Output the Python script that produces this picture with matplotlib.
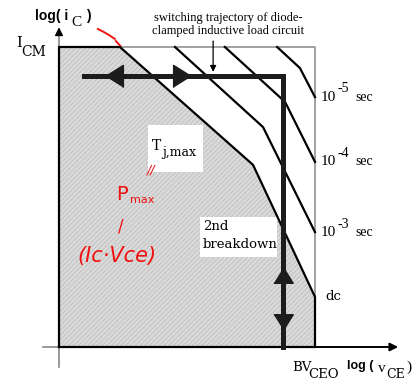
import matplotlib.pyplot as plt
import matplotlib.patches as mpatches

# Safe operating area of a BJT, drawn on log-log axes normalised so that
# BV_CEO -> 1 on the v_CE axis and I_CM -> 1 on the i_C axis.
dc_v = [0.0, 0.0, 0.238, 0.758, 1.0, 1.0]
dc_i = [0.0, 1.0, 1.0, 0.607, 0.167, 0.0]

pulse_labels = ["-5", "-4", "-3"]
pulse_v = [
    [0.852, 0.941, 1.0],
    [0.648, 0.883, 1.0],
    [0.453, 0.797, 1.0],
]
pulse_i = [
    [1.0, 0.93, 0.833],
    [1.0, 0.817, 0.617],
    [1.0, 0.733, 0.383],
]

# switching trajectory of the diode-clamped inductive load
traj_v = [0.098, 0.875, 0.875]
traj_i = [0.903, 0.903, 0.0]

SERIF = "Liberation Serif"
SLAB = "DejaVu Serif"
SANS = ["Liberation Sans Narrow", "Liberation Sans"]
RED = "#f01010"

fig = plt.figure(figsize=(4.13, 3.85), dpi=100)
ax = fig.add_axes([59 / 413, 38 / 385, 256 / 413, 300 / 385])
ax.set_xlim(0, 1)
ax.set_ylim(0, 1)
ax.axis("off")

plt.rcParams["hatch.linewidth"] = 0.7

# shaded SOA (dc boundary)
ax.add_patch(mpatches.Polygon(list(zip(dc_v, dc_i)), closed=True,
                              facecolor="#dadada", edgecolor="#c2c2c2",
                              hatch="///////", linewidth=0, zorder=1))
ax.plot(dc_v + [dc_v[0]], dc_i + [dc_i[0]], color="black", lw=1.6,
        zorder=4, clip_on=False)

# light grey outer box
ax.plot([dc_v[2], 1.0, 1.0], [1.0, 1.0, dc_i[4]], color="#9a9a9a",
        lw=1.3, zorder=2, clip_on=False)

# axes extensions and arrows
ax.plot([0, 0], [-0.067, 0], color="#888888", lw=1.2, clip_on=False)
ax.plot([-0.0625, 0], [0, 0], color="#888888", lw=1.2, clip_on=False)
ax.plot([0, 0], [1.0, 1.04], color="#888888", lw=1.2, clip_on=False)
ax.annotate("", xy=(0, 1.075), xytext=(0, 1.035),
            arrowprops=dict(arrowstyle="-|>", color="black", lw=1.0,
                            mutation_scale=12), annotation_clip=False)
ax.annotate("", xy=(1.325, 0), xytext=(1.0, 0),
            arrowprops=dict(arrowstyle="-|>", color="black", lw=1.4,
                            mutation_scale=12, shrinkA=0, shrinkB=0),
            annotation_clip=False)

# pulsed SOA limits
for v, i, lab in zip(pulse_v, pulse_i, pulse_labels):
    ax.plot(v, i, color="black", lw=1.6, zorder=4, clip_on=False)
    ax.text(1.021, i[-1], "10", family=SERIF, fontsize=11, va="center",
            ha="left")
    ax.text(1.086, i[-1] + 0.027, lab, family=SERIF, fontsize=10,
            va="center", ha="left")
    ax.text(1.158, i[-1], "sec", family=SERIF, fontsize=10, va="center",
            ha="left")
ax.text(1.039, dc_i[4], "dc", family=SLAB, fontsize=9.5, va="center",
        ha="left")

# label boxes
ax.add_patch(mpatches.Rectangle((0.348, 0.583), 0.2145, 0.157,
                                facecolor="white", edgecolor="none",
                                zorder=2))
ax.text(0.381, 0.669, "T", family=SLAB, fontsize=10, ha="center",
        va="center", zorder=3)
ax.text(0.404, 0.647, "j,max", family=SLAB, fontsize=9, ha="left",
        va="center", zorder=3)

ax.add_patch(mpatches.Rectangle((0.551, 0.3), 0.301, 0.133,
                                facecolor="white", edgecolor="none",
                                zorder=2))
ax.text(0.5625, 0.403, "2nd", family=SLAB, fontsize=9.5, ha="left",
        va="center", zorder=3)
ax.text(0.5625, 0.343, "breakdown", family=SLAB, fontsize=9.5, ha="left",
        va="center", zorder=3)

# trajectory with direction arrows
ax.plot(traj_v, traj_i, color="#1c1c1c", lw=3.6, zorder=5,
        solid_joinstyle="miter", clip_on=False)
head_l = [(-0.8, 0), (0.8, 1), (0.8, -1)]
head_r = [(0.8, 0), (-0.8, 1), (-0.8, -1)]
head_u = [(0, 0.8), (1, -0.8), (-1, -0.8)]
head_d = [(0, -0.8), (1, 0.8), (-1, 0.8)]
ax.plot(0.215, traj_i[0], marker=head_l, ms=16, color="#1c1c1c", zorder=6)
ax.plot(0.48, traj_i[0], marker=head_r, ms=16, color="#1c1c1c", zorder=6)
ax.plot(traj_v[-1], 0.24, marker=head_u, ms=14, color="#1c1c1c", zorder=6)
ax.plot(traj_v[-1], 0.083, marker=head_d, ms=14, color="#1c1c1c", zorder=6)

ax.text(0.66, 1.075, "switching trajectory of diode-\nclamped inductive load circuit",
        family=SERIF, fontsize=9, ha="center", va="center", linespacing=1.15)
ax.annotate("", xy=(0.602, 0.917), xytext=(0.602, 1.02),
            arrowprops=dict(arrowstyle="-|>", color="black", lw=0.9,
                            mutation_scale=9, shrinkA=0, shrinkB=0),
            annotation_clip=False, zorder=7)

# axis labels
ax.text(-0.094, 1.103, "log( i", family=SANS, weight="bold", fontsize=10,
        ha="left", va="center")
ax.text(0.068, 1.083, "C", family=SERIF, fontsize=11, ha="center",
        va="center")
ax.text(0.113, 1.103, ")", family=SANS, weight="bold", fontsize=10,
        ha="center", va="center")
ax.text(-0.154, 1.012, "I", family=SLAB, fontsize=10.5, ha="center",
        va="center")
ax.text(-0.1, 0.983, "CM", family=SLAB, fontsize=10, ha="center",
        va="center")

ax.text(0.949, -0.067, "BV", family=SLAB, fontsize=9.5, ha="center",
        va="center")
ax.text(1.035, -0.093, "CEO", family=SLAB, fontsize=9.5, ha="center",
        va="center")
ax.text(1.125, -0.063, "log (", family=SANS, weight="bold", fontsize=9,
        ha="left", va="center")
ax.text(1.262, -0.07, "v", family=SERIF, fontsize=11, ha="center",
        va="center")
ax.text(1.313, -0.093, "CE", family=SLAB, fontsize=9, ha="center",
        va="center")
ax.text(1.368, -0.067, ")", family=SERIF, fontsize=11, ha="center",
        va="center")

# red hand notes
ax.plot([0.152, 0.175, 0.195, 0.218], [1.06, 1.05, 1.04, 1.027],
        color=RED, lw=1.4, clip_on=False)
ax.plot([0.222, 0.24], [1.02, 1.003], color=RED, lw=1.4, clip_on=False)
ax.text(0.359, 0.59, "//", color=RED, fontsize=9, ha="center",
        va="center", style="italic", zorder=3)
ax.text(0.246, 0.51, "P", color=RED, fontsize=14, ha="center",
        va="center")
ax.text(0.277, 0.49, "max", color=RED, fontsize=8, ha="left",
        va="center")
ax.text(0.242, 0.403, "/", color=RED, fontsize=12, ha="center",
        va="center")
ax.text(0.227, 0.303, "(Ic·Vce)", color=RED, fontsize=15, ha="center",
        va="center", style="italic")

fig.savefig("out.png", dpi=100)
